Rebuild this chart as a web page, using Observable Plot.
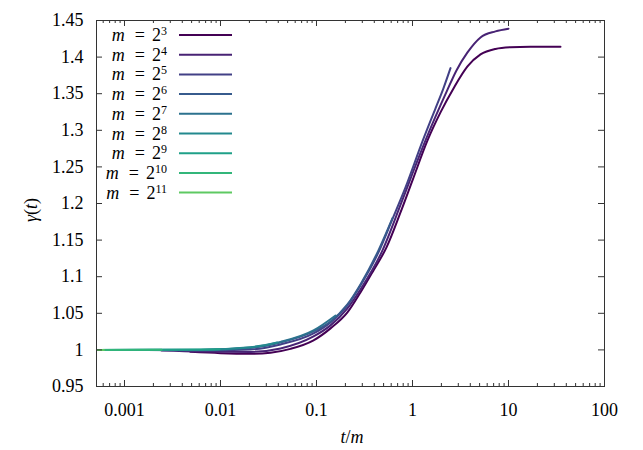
<!DOCTYPE html>
<html><head><meta charset="utf-8">
<script src="https://cdn.jsdelivr.net/npm/d3@7"></script>
<script src="https://cdn.jsdelivr.net/npm/@observablehq/plot@0.6"></script>
<style>
body{margin:0;background:#fff;}
#chart svg{display:block;}
</style></head><body><div id="chart"></div>
<script>
// exponents of m = 2^k
const exponents = [3,4,5,6,7,8,9,10,11];

// t/m values and gamma(t) values, per series
const tm8  = [0.00487,0.01,0.0205,0.0332,0.0536,0.0931,0.14,0.21,0.287,0.392,0.536,0.75,1.0,1.433,1.957,2.673,3.74,5.11,7.32,10.5,16.9,34.8];
const g8   = [0.9973,0.9955,0.9948,0.9962,1.0014,1.013,1.0294,1.0512,1.0785,1.1086,1.140,1.1878,1.2316,1.2862,1.3245,1.3572,1.3873,1.4037,1.4112,1.4135,1.4142,1.4143];
const tm16 = [0.00243,0.0062,0.0205,0.0422,0.0931,0.14,0.21,0.287,0.487,0.75,1.0,1.366,2.297,2.87,3.74,5.11,7.32,10.0];
const g16  = [0.9992,0.9978,0.9973,1.002,1.0184,1.0335,1.0567,1.0826,1.136,1.198,1.241,1.2862,1.3545,1.3818,1.4064,1.4269,1.4351,1.4388];
const tm32 = [0.00121,0.0062,0.0205,0.0422,0.0931,0.14,0.21,0.287,0.442,0.619,0.846,1.27,1.737,2.10,2.49];
const g32  = [1.0,0.9992,1.0005,1.0075,1.0225,1.0376,1.0608,1.0881,1.1332,1.179,1.222,1.2848,1.330,1.3573,1.3850];
const tm64 = [0.000619,0.0062,0.0205,0.0422,0.0931,0.14,0.21,0.287,0.442,0.619];
const g64  = [1.0,0.9999,1.0027,1.0102,1.0253,1.0389,1.0622,1.0895,1.136,1.180];
const tm128 = [0.0004,0.0062,0.0205,0.0422,0.0931,0.158];
const g128  = [1.0,1.0,1.0034,1.0109,1.0266,1.047];
const tm256 = [0.0004,0.0062,0.0205,0.039];
const g256  = [1.0,1.0003,1.0037,1.0102];
const tm512 = [0.0004,0.0062,0.0098];
const g512  = [1.0,1.0004,1.0010];
const tm1024 = [0.0004,0.00244];
const g1024  = [1.0,1.0001];
const tm2048 = [0.0004,0.00061];
const g2048  = [1.0,1.0];

// axis ticks
const xMajorTicks = [0.001,0.01,0.1,1,10,100];
const xTickLabels = ["0.001","0.01","0.1","1","10","100"];
const xMinorTicks = [0.0006,0.0007,0.0008,0.0009,
  0.002,0.003,0.004,0.005,0.006,0.007,0.008,0.009,
  0.02,0.03,0.04,0.05,0.06,0.07,0.08,0.09,
  0.2,0.3,0.4,0.5,0.6,0.7,0.8,0.9,
  2,3,4,5,6,7,8,9,
  20,30,40,50,60,70,80,90];
const yTicks = [0.95,1.0,1.05,1.1,1.15,1.2,1.25,1.3,1.35,1.4,1.45];
const yTickLabels = ["0.95","1","1.05","1.1","1.15","1.2","1.25","1.3","1.35","1.4","1.45"];

const W = 643, H = 450, mL = 96, mR = 39, mT = 20, mB = 64;
const pw = W - mL - mR, ph = H - mT - mB;
const colors = exponents.map((e, i) => d3.interpolateViridis(i * 0.75 / 8));
const tmArrays = [tm8, tm16, tm32, tm64, tm128, tm256, tm512, tm1024, tm2048];
const gArrays = [g8, g16, g32, g64, g128, g256, g512, g1024, g2048];
const rows = exponents.flatMap((e, i) => tmArrays[i].map((t, j) => ({series: i, tm: t, g: gArrays[i][j]})));

const font = "'Liberation Serif', 'DejaVu Serif', serif";
const tickColor = "#333";

const plot = Plot.plot({
  width: W, height: H,
  marginLeft: mL, marginRight: mR, marginTop: mT, marginBottom: mB,
  style: {fontFamily: font, fontSize: "18px", background: "#fff", color: "#000", overflow: "visible"},
  x: {type: "log", domain: [0.000511, 100]},
  y: {domain: [0.95, 1.45]},
  marks: [
    Plot.line(rows, {x: "tm", y: "g", z: "series", stroke: d => colors[d.series], strokeWidth: 2, curve: "monotone-x", clip: true}),
    Plot.tickX(xMajorTicks, {x: d => d, insetTop: ph - 6, stroke: tickColor}),
    Plot.tickX(xMajorTicks, {x: d => d, insetBottom: ph - 6, stroke: tickColor}),
    Plot.tickX(xMinorTicks, {x: d => d, insetTop: ph - 3, stroke: tickColor}),
    Plot.tickX(xMinorTicks, {x: d => d, insetBottom: ph - 3, stroke: tickColor}),
    Plot.tickY(yTicks, {y: d => d, insetRight: pw - 6, stroke: tickColor}),
    Plot.tickY(yTicks, {y: d => d, insetLeft: pw - 6, stroke: tickColor}),
    Plot.frame({stroke: tickColor}),
    Plot.axisX({ticks: xMajorTicks, tickSize: 0, tickPadding: 17, tickFormat: d => xTickLabels[xMajorTicks.indexOf(d)], label: null}),
    Plot.axisY({ticks: yTicks, tickSize: 0, tickPadding: 13, tickFormat: d => yTickLabels[yTicks.indexOf(d)], label: null})
  ]
});
document.getElementById("chart").appendChild(plot);

// axis titles and legend
const svg = d3.select(plot);
const ns = svg.append("g").attr("font-family", font).attr("font-size", 18).attr("fill", "#000");

const xt = ns.append("text").attr("x", mL + pw / 2 + 2).attr("y", 443).attr("text-anchor", "middle");
xt.append("tspan").attr("font-style", "italic").text("t");
xt.append("tspan").text("/");
xt.append("tspan").attr("font-style", "italic").text("m");

const yt = ns.append("text").attr("transform", "translate(37,210) rotate(-90)").attr("text-anchor", "middle");
yt.append("tspan").attr("font-style", "italic").text("γ");
yt.append("tspan").text("(");
yt.append("tspan").attr("font-style", "italic").text("t");
yt.append("tspan").text(")");

const leg = ns.append("g");
exponents.forEach((e, i) => {
  const y = 35 + i * 19.7;
  const t = leg.append("text").attr("x", 167).attr("y", y + 6).attr("text-anchor", "end");
  t.append("tspan").attr("font-style", "italic").text("m");
  t.append("tspan").attr("dx", 10).text("=");
  t.append("tspan").attr("dx", 7).text("2");
  t.append("tspan").attr("dy", -6).attr("font-size", 12).text(String(e));
  leg.append("line").attr("x1", 179).attr("x2", 232).attr("y1", y).attr("y2", y)
    .attr("stroke", colors[i]).attr("stroke-width", 2);
});
</script>
</body></html>
